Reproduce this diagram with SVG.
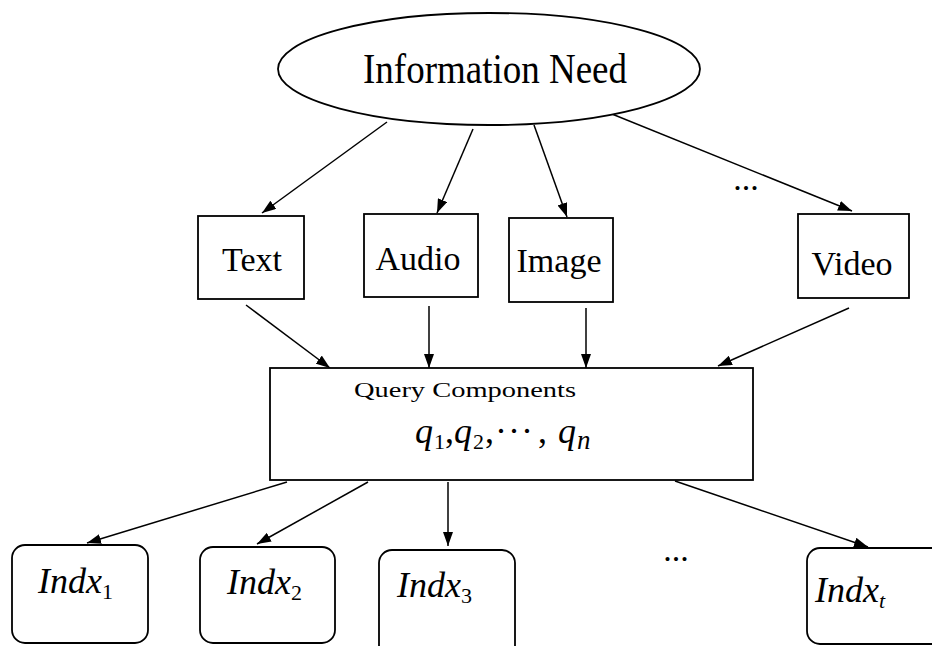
<svg xmlns="http://www.w3.org/2000/svg" width="932" height="646" viewBox="0 0 932 646">
<style>
.s{fill:#fff;stroke:#000;stroke-width:1.8}
.t{font-family:"Liberation Serif","Times New Roman",serif;fill:#000}
.c line{stroke:#000;stroke-width:1.5}
.i{font-style:italic}
</style>
<defs>
<marker id="a" viewBox="0 0 14 10" refX="14" refY="5" markerWidth="14" markerHeight="10" markerUnits="userSpaceOnUse" orient="auto">
<path d="M0,0 L14,5 L0,10 z" fill="#000"/>
</marker>
</defs>
<rect width="932" height="646" fill="#fff"/>
<g class="c">
<line x1="387" y1="122" x2="262" y2="213" marker-end="url(#a)"/>
<line x1="473" y1="129" x2="437" y2="213" marker-end="url(#a)"/>
<line x1="534" y1="125" x2="567" y2="217" marker-end="url(#a)"/>
<line x1="607" y1="112" x2="852" y2="211" marker-end="url(#a)"/>
<line x1="246" y1="305" x2="330" y2="368" marker-end="url(#a)"/>
<line x1="429" y1="306" x2="429" y2="368" marker-end="url(#a)"/>
<line x1="586" y1="308" x2="586" y2="368" marker-end="url(#a)"/>
<line x1="849" y1="308" x2="718" y2="366" marker-end="url(#a)"/>
<line x1="287" y1="482" x2="87" y2="543" marker-end="url(#a)"/>
<line x1="368" y1="482" x2="257" y2="544" marker-end="url(#a)"/>
<line x1="448" y1="482" x2="448" y2="546" marker-end="url(#a)"/>
<line x1="675" y1="481" x2="868" y2="547" marker-end="url(#a)"/>
</g>
<g id="need">
<ellipse class="s" cx="489" cy="69" rx="211" ry="56"/>
<text class="t" x="495" y="83" font-size="43" text-anchor="middle" textLength="264" lengthAdjust="spacingAndGlyphs">Information Need</text>
</g>
<g id="text">
<rect class="s" x="198" y="216" width="106" height="83"/>
<text class="t" x="252" y="271" font-size="34" text-anchor="middle">Text</text>
</g>
<g id="audio">
<rect class="s" x="364" y="214" width="114" height="83"/>
<text class="t" x="418" y="270" font-size="34" text-anchor="middle">Audio</text>
</g>
<g id="image">
<rect class="s" x="509" y="218" width="104" height="84"/>
<text class="t" x="559" y="272" font-size="34" text-anchor="middle">Image</text>
</g>
<g id="dots1">
<text class="t" x="746" y="190" font-size="34" text-anchor="middle">...</text>
</g>
<g id="video">
<rect class="s" x="798" y="214" width="111" height="84"/>
<text class="t" x="852" y="275" font-size="34" text-anchor="middle">Video</text>
</g>
<g id="query">
<rect class="s" x="270" y="368" width="483" height="112"/>
<text class="t" x="354" y="397" font-size="22" textLength="222" lengthAdjust="spacingAndGlyphs">Query Components</text>
<g class="t i" font-size="36">
<text x="415" y="443">q</text><text x="434" y="449" font-size="22" font-style="normal">1</text>
<text x="445" y="443" font-style="normal">,</text>
<text x="454" y="443">q</text><text x="473" y="449" font-size="22" font-style="normal">2</text>
<text x="485" y="443" font-style="normal">,</text>
<text x="495" y="443" font-style="normal" textLength="38" lengthAdjust="spacing">···</text>
<text x="538" y="443" font-style="normal">,</text>
<text x="558" y="443">q</text><text x="577" y="449" font-size="27">n</text>
</g>
</g>
<g id="indx1">
<rect class="s" x="12" y="545" width="136" height="98" rx="13"/>
<text class="t i" x="38" y="593" font-size="36">Indx<tspan font-size="22" font-style="normal" dy="6">1</tspan></text>
</g>
<g id="indx2">
<rect class="s" x="200" y="547" width="135" height="96" rx="13"/>
<text class="t i" x="227" y="594" font-size="36">Indx<tspan font-size="22" font-style="normal" dy="6">2</tspan></text>
</g>
<g id="indx3">
<rect class="s" x="379" y="550" width="136" height="110" rx="13"/>
<text class="t i" x="397" y="597" font-size="36">Indx<tspan font-size="22" font-style="normal" dy="6">3</tspan></text>
</g>
<g id="dots2">
<text class="t" x="676" y="561" font-size="34" text-anchor="middle">...</text>
</g>
<g id="indxt">
<rect class="s" x="807" y="548" width="150" height="96" rx="13"/>
<text class="t i" x="815" y="602" font-size="36">Indx<tspan font-size="22" dy="6">t</tspan></text>
</g>
</svg>
